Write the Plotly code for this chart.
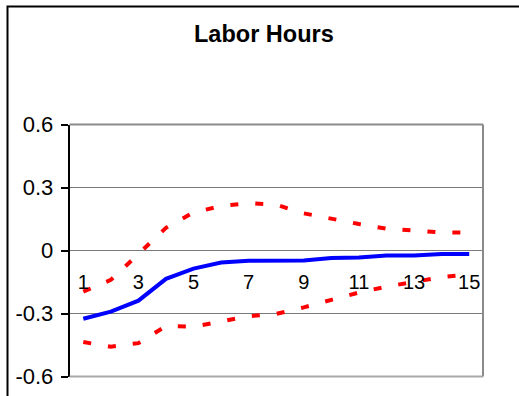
import plotly.graph_objects as go

# Impulse response of labor hours with confidence bands
periods = list(range(1, 16))
response = [-0.325, -0.291, -0.239, -0.135, -0.086, -0.057, -0.049, -0.048,
            -0.048, -0.036, -0.033, -0.024, -0.024, -0.017, -0.017]
upper_band = [-0.196, -0.140, -0.017, 0.108, 0.181, 0.212, 0.226, 0.218,
              0.177, 0.150, 0.126, 0.104, 0.095, 0.086, 0.086]
lower_band = [-0.436, -0.458, -0.441, -0.360, -0.363, -0.339, -0.313, -0.302,
              -0.271, -0.235, -0.200, -0.172, -0.150, -0.127, -0.113]

x_labels = [1, 3, 5, 7, 9, 11, 13, 15]
x_tick_marks = [2.5, 4.5, 6.5, 8.5, 10.5, 12.5, 14.5]
y_ticks = [-0.6, -0.3, 0, 0.3, 0.6]
y_tick_text = ["-0.6", "-0.3", "0", "0.3", "0.6"]

W, H = 519, 396
px_left, px_right = 69.5, 483.0
px_top, px_bottom = 124.5, 376.5
x_dom = [px_left / W, px_right / W]
y_dom = [1 - px_bottom / H, 1 - px_top / H]
zero_pos = y_dom[0] + 0.5 * (y_dom[1] - y_dom[0])

FONT = "Liberation Sans, Arial, sans-serif"
dash = "8px,17px"

fig = go.Figure()
fig.add_trace(go.Scatter(x=periods, y=upper_band, mode="lines",
                         line=dict(color="#FF0000", width=4, dash=dash)))
fig.add_trace(go.Scatter(x=periods, y=lower_band, mode="lines",
                         line=dict(color="#FF0000", width=4, dash=dash)))
fig.add_trace(go.Scatter(x=periods, y=response, mode="lines",
                         line=dict(color="#0000FF", width=4)))

fig.update_layout(
    width=W, height=H, autosize=False,
    margin=dict(l=0, r=0, t=0, b=0, pad=0),
    paper_bgcolor="white", plot_bgcolor="white",
    showlegend=False,
    font=dict(family=FONT, color="black"),
    xaxis=dict(
        domain=x_dom, range=[0.5, 15.5], anchor="free", position=zero_pos,
        tickvals=x_labels, ticktext=[str(v) for v in x_labels],
        ticks="", showgrid=False, zeroline=False, showline=False,
        tickfont=dict(size=20, family=FONT), ticklabelstandoff=17,
        automargin=False,
    ),
    xaxis2=dict(
        domain=x_dom, range=[0.5, 15.5], anchor="free", position=zero_pos,
        overlaying="x", tickvals=x_tick_marks, ticks="outside", ticklen=5,
        tickwidth=1.5, tickcolor="#333333", showticklabels=False,
        showgrid=False, zeroline=False, showline=False, automargin=False,
    ),
    yaxis=dict(
        domain=y_dom, range=[-0.6, 0.6], tickvals=y_ticks, ticktext=y_tick_text,
        ticks="outside", ticklen=7, tickwidth=1.5, tickcolor="black",
        showline=True, linecolor="black", linewidth=1.5,
        showgrid=True, gridcolor="#7a7a7a", gridwidth=1, zeroline=False,
        tickfont=dict(size=22, family=FONT), ticklabelstandoff=3,
        automargin=False,
    ),
)

# plot-area frame (top, right, bottom)
frame = [
    dict(x0=x_dom[0], x1=x_dom[1], y0=y_dom[1], y1=y_dom[1], color="#8a8a8a"),
    dict(x0=x_dom[1], x1=x_dom[1], y0=y_dom[0], y1=y_dom[1], color="#8a8a8a"),
    dict(x0=x_dom[0], x1=x_dom[1], y0=y_dom[0], y1=y_dom[0], color="#a8a8a8"),
]
for s in frame:
    fig.add_shape(type="line", xref="paper", yref="paper",
                  x0=s["x0"], x1=s["x1"], y0=s["y0"], y1=s["y1"],
                  line=dict(color=s["color"], width=2))

# outer chart border
fig.add_shape(type="rect", xref="paper", yref="paper",
              x0=7.5 / W, x1=1.05, y0=-0.05, y1=1 - 6.5 / H,
              line=dict(color="black", width=2))

fig.add_annotation(text="<b>Labor Hours</b>", xref="paper", yref="paper",
                   x=263.5 / W, y=1 - 34 / H, xanchor="center", yanchor="middle",
                   showarrow=False, font=dict(size=23.5, family=FONT, color="black"))

fig.write_html("out.html")
